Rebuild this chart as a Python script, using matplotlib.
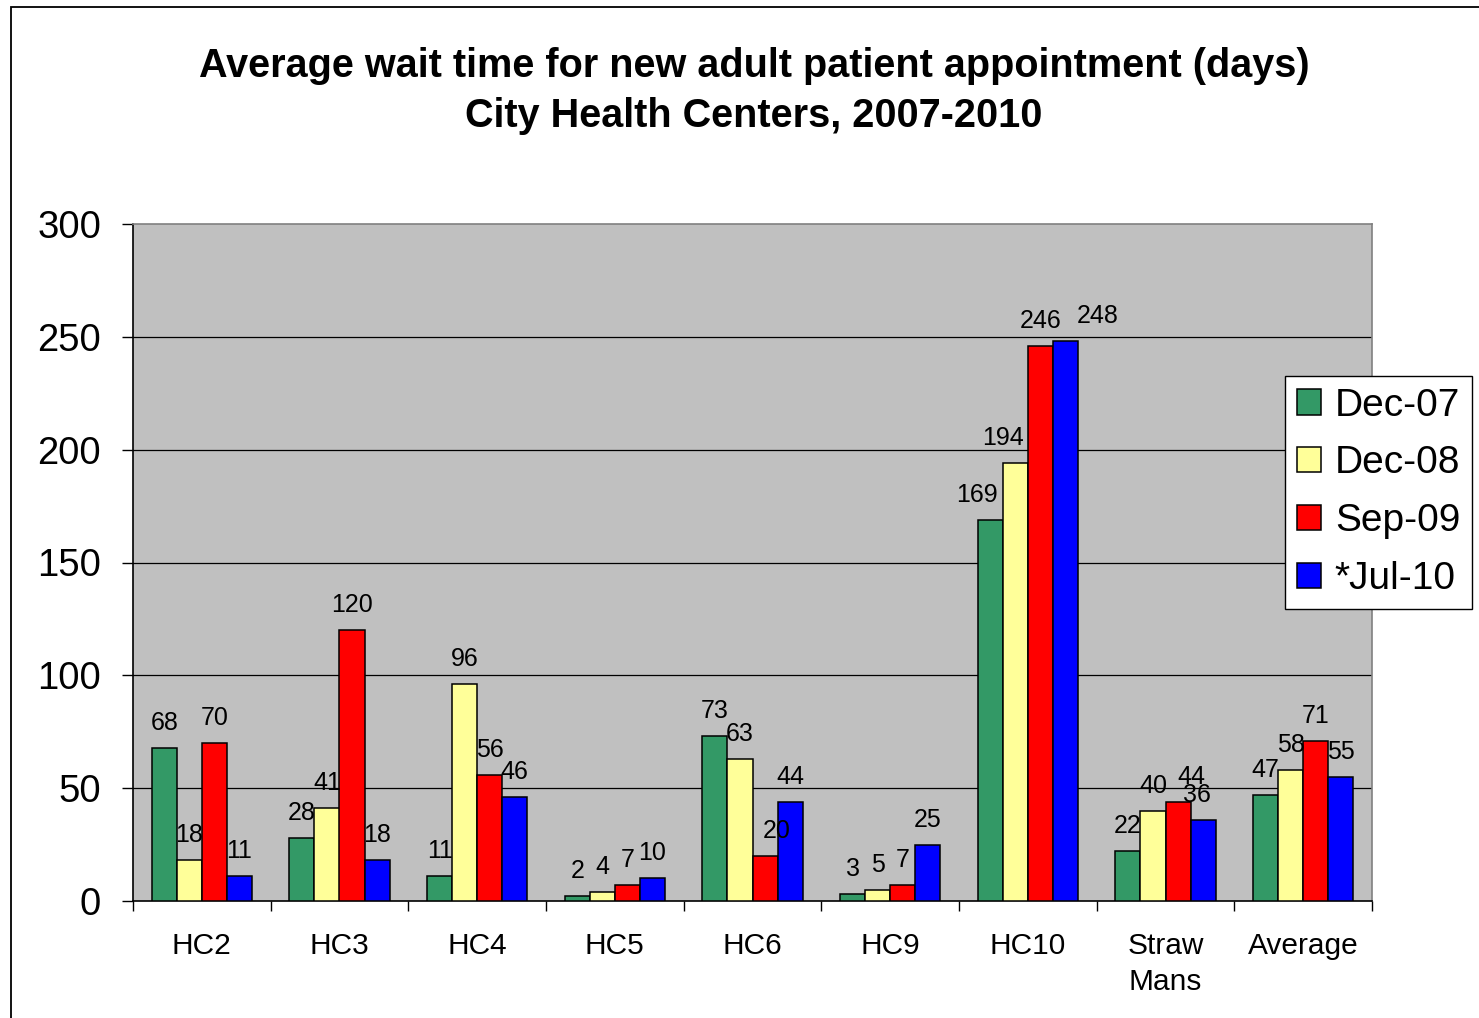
import matplotlib
matplotlib.use("Agg")
import matplotlib.pyplot as plt
import numpy as np
from matplotlib.patches import Rectangle

categories = ["HC2", "HC3", "HC4", "HC5", "HC6", "HC9", "HC10", "Straw\nMans", "Average"]
series_names = ["Dec-07", "Dec-08", "Sep-09", "*Jul-10"]
dec07 = [68, 28, 11, 2, 73, 3, 169, 22, 47]
dec08 = [18, 41, 96, 4, 63, 5, 194, 40, 58]
sep09 = [70, 120, 56, 7, 20, 7, 246, 44, 71]
jul10 = [11, 18, 46, 10, 44, 25, 248, 36, 55]
yticks = [0, 50, 100, 150, 200, 250, 300]

colors = ["#339966", "#FFFF99", "#FF0000", "#0000FF"]
# label horizontal nudges (points), keyed by (series, category)
label_dx = {(2, 4): 8.6, (0, 6): -9.4, (1, 6): -8.6, (3, 6): 23, (2, 7): 9.4, (3, 7): -4.3}

plt.rcParams['font.family'] = ['Liberation Sans', 'DejaVu Sans']

W, H = 1479, 1018
fig = plt.figure(figsize=(W / 100, H / 100), dpi=100)
ax = fig.add_axes([133 / W, 1 - 901 / H, (1372 - 133) / W, (901 - 224) / H])
ax.set_facecolor("#C0C0C0")

series = [dec07, dec08, sep09, jul10]
n = len(categories)
x = np.arange(n)
bw = 1 / 5.5
for i, (vals, c, name) in enumerate(zip(series, colors, series_names)):
    pos = x - 2 * bw + (i + 0.5) * bw
    ax.bar(pos, vals, width=bw, color=c, edgecolor="black", linewidth=1.1, label=name, zorder=3)
    for j, (px, v) in enumerate(zip(pos, vals)):
        dx = label_dx.get((i, j), 0)
        ax.annotate(str(v), (px, v), xytext=(dx, 18), textcoords="offset points",
                    ha="center", va="center", fontsize=18, zorder=4)

ax.set_xlim(-0.5, n - 0.5)
ax.set_ylim(0, 300)
ax.set_yticks(yticks)
ax.set_yticklabels([str(t) for t in yticks], fontsize=27.5)
ax.tick_params(axis="y", length=8, width=1, pad=15, direction="out")
for t in yticks[1:-1]:
    ax.axhline(t, color="black", linewidth=0.9, zorder=1)

ax.set_xticks(np.arange(n + 1) - 0.5)
ax.set_xticklabels([])
ax.tick_params(axis="x", which="major", length=7, width=1, direction="out")
ax.set_xticks(x, minor=True)
ax.set_xticklabels(categories, minor=True, fontsize=21.5, linespacing=1.4, va="top")
ax.tick_params(axis="x", which="minor", length=0, pad=22)

ax.spines["top"].set_color("#808080")
ax.spines["right"].set_color("#808080")
ax.spines["left"].set_color("black")
ax.spines["bottom"].set_color("black")
for s in ax.spines.values():
    s.set_linewidth(1.2)

leg = fig.legend(loc="upper left", bbox_to_anchor=(1285 / W, 1 - 376 / H), borderaxespad=0,
                 fontsize=28, frameon=True, fancybox=False, edgecolor="black",
                 facecolor="white", framealpha=1,
                 handlelength=0.62, handleheight=0.62, handletextpad=0.36,
                 labelspacing=0.56, borderpad=0.3)
leg.get_frame().set_linewidth(1.0)
for h in leg.legend_handles:
    h.set_linewidth(1.1)

fig.text(754 / W, 1 - 91 / H,
         "Average wait time for new adult patient appointment (days)\nCity Health Centers, 2007-2010",
         ha="center", va="center", fontsize=28.5, fontweight="bold", linespacing=1.41)

fig.patches.append(Rectangle((11 / W, -0.1), 1.2, 1 - 7 / H + 0.1, transform=fig.transFigure,
                             fill=False, edgecolor="black", linewidth=1.3))

fig.savefig("out.png", dpi=100, facecolor="white")
